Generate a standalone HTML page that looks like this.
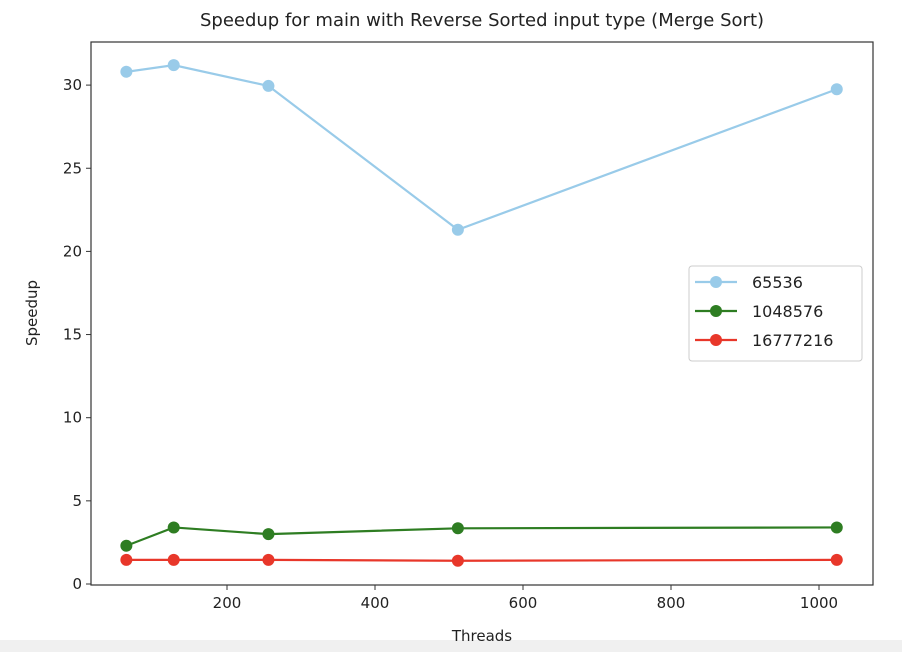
<!DOCTYPE html>
<html><head><meta charset="utf-8"><style>
body{margin:0;background:#fff;}
svg text{font-family:"DejaVu Sans","Liberation Sans",sans-serif;fill:#222;}
</style></head><body>
<svg id="chart" width="902" height="652" xmlns="http://www.w3.org/2000/svg">
<rect x="0" y="0" width="902" height="652" fill="#fff"/>
<rect x="0" y="640" width="902" height="12" fill="#f0f0f0"/>
<text x="482" y="26" font-size="18" text-anchor="middle">Speedup for main with Reverse Sorted input type (Merge Sort)</text>
<g id="axes"></g>
<g id="series"></g>
<rect x="91" y="42" width="782" height="543" fill="none" stroke="#333" stroke-width="1.2"/>
<text x="482" y="641" font-size="15" text-anchor="middle">Threads</text>
<text transform="translate(37,313) rotate(-90)" font-size="15" text-anchor="middle">Speedup</text>
<g id="legend"></g>
</svg>
<script>
const threads=[64,128,256,512,1024];
const seriesNames=["65536","1048576","16777216"];
const s65536=[30.8,31.2,29.95,21.3,29.75];
const s1048576=[2.3,3.4,3.0,3.35,3.4];
const s16777216=[1.45,1.45,1.45,1.4,1.45];
const xTicks=[200,400,600,800,1000];
const yTicks=[0,5,10,15,20,25,30];
const colors=["#99cbe9","#2e7d22","#e8372a"];
const NS="http://www.w3.org/2000/svg";
const xs=v=>79+v*0.74;
const ys=v=>584-v*16.63;
function mk(t,a,p){const e=document.createElementNS(NS,t);for(const k in a)e.setAttribute(k,a[k]);p.appendChild(e);return e;}
const ax=document.getElementById('axes');
xTicks.forEach(t=>{
 const l=mk('line',{x1:xs(t),x2:xs(t),y1:585,y2:590,stroke:'#333'},ax);
 
 
 const tx=mk('text',{x:xs(t),y:608,'font-size':15,'text-anchor':'middle'},ax);tx.textContent=t;
 
 
});
yTicks.forEach(t=>{
 const l=mk('line',{x1:86,x2:91,y1:ys(t),y2:ys(t),stroke:'#333'},ax);
 
 
 const tx=mk('text',{x:82,y:ys(t)+5,'font-size':15,'text-anchor':'end'},ax);tx.textContent=t;
 
 
});
const sg=document.getElementById('series');
[s65536,s1048576,s16777216].forEach((d,i)=>{
 const g=mk('g',{},sg);
 
 
 const pl=mk('polyline',{points:d.map((v,j)=>xs(threads[j])+','+ys(v)).join(' '),fill:'none',stroke:colors[i],'stroke-width':2.2},g);
 
 
 d.forEach((v,j)=>{
  const c=mk('circle',{cx:xs(threads[j]),cy:ys(v),r:6,fill:colors[i]},g);
  
  
 });
});
const lg=document.getElementById('legend');
mk('rect',{x:689,y:266,width:173,height:95,rx:3,fill:'#fff',stroke:'#ccc'},lg);
seriesNames.forEach((n,i)=>{
 const y=282+i*29;
 const e=mk('g',{},lg);
 
 
 mk('line',{x1:695,x2:737,y1:y,y2:y,stroke:colors[i],'stroke-width':2.2},e);
 mk('circle',{cx:716,cy:y,r:6,fill:colors[i]},e);
 const t=mk('text',{x:752,y:y+6,'font-size':16},e);t.textContent=n;
});
</script>
</body></html>
